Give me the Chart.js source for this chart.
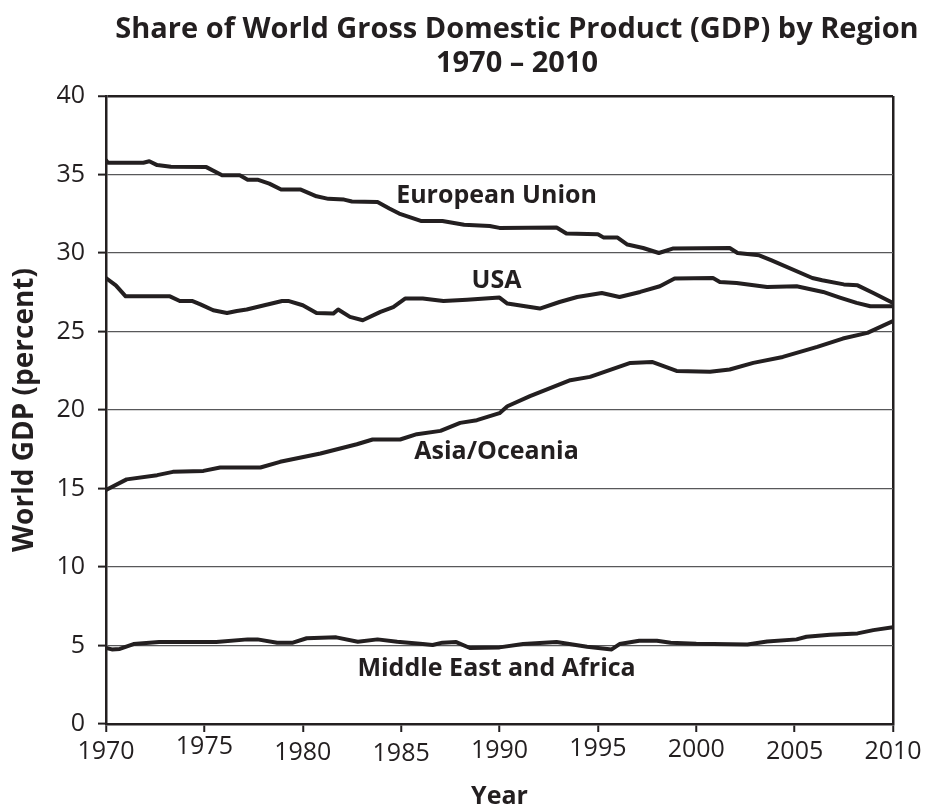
<!DOCTYPE html>
<html>
<head>
<meta charset="utf-8">
<title>Share of World GDP by Region</title>
<script src="https://cdn.jsdelivr.net/npm/chart.js@4.4.1/dist/chart.umd.min.js"></script>
<style>
  body { margin: 0; background: #fff; }
  canvas { display: block; }
</style>
</head>
<body>
<canvas id="gdpChart" width="928" height="812"></canvas>
<script>
// share of world GDP, percent, by year (breakpoints of each traced line)
var euYears = [1970, 1970.1, 1971.9, 1972.2, 1972.6, 1973.3, 1975.1, 1975.9, 1976.8, 1977.2, 1977.7, 1978.3, 1978.9, 1979.9, 1980.7, 1981.3, 1982.1, 1982.5, 1983.8, 1984.4, 1984.9, 1986.0, 1987.1, 1988.2, 1989.5, 1990.0, 1992.9, 1993.4, 1995.0, 1995.3, 1996.0, 1996.5, 1997.3, 1998.1, 1998.8, 2001.7, 2002.1, 2003.2, 2003.8, 2005.9, 2006.4, 2007.5, 2008.2, 2009.0, 2010];
var euShare = [35.9, 35.75, 35.75, 35.84, 35.6, 35.5, 35.47, 34.95, 34.95, 34.67, 34.67, 34.42, 34.04, 34.04, 33.61, 33.45, 33.4, 33.28, 33.25, 32.83, 32.51, 32.04, 32.04, 31.8, 31.72, 31.6, 31.62, 31.24, 31.2, 30.98, 30.98, 30.54, 30.32, 30.0, 30.28, 30.32, 30.0, 29.85, 29.54, 28.41, 28.26, 28.0, 27.94, 27.45, 26.82];

var usaYears = [1970, 1970.5, 1971.0, 1973.25, 1973.75, 1974.4, 1974.8, 1975.45, 1976.15, 1976.65, 1977.15, 1978.95, 1979.3, 1980.0, 1980.7, 1981.55, 1981.8, 1982.4, 1983.05, 1983.95, 1984.6, 1985.2, 1986.1, 1987.15, 1988.35, 1990.0, 1990.4, 1992.05, 1993.05, 1993.95, 1995.2, 1996.1, 1997.15, 1998.15, 1998.9, 2000.85, 2001.2, 2002.05, 2003.6, 2005.1, 2006.45, 2007.3, 2008.15, 2008.85, 2010];
var usaShare = [28.4, 27.94, 27.24, 27.24, 26.94, 26.94, 26.73, 26.35, 26.18, 26.31, 26.4, 26.94, 26.94, 26.67, 26.18, 26.14, 26.4, 25.93, 25.72, 26.25, 26.56, 27.1, 27.1, 26.94, 27.03, 27.16, 26.78, 26.46, 26.88, 27.2, 27.45, 27.2, 27.52, 27.88, 28.37, 28.41, 28.16, 28.09, 27.84, 27.88, 27.52, 27.16, 26.82, 26.61, 26.61];

var asiaYears = [1970, 1971.05, 1972.6, 1973.4, 1974.95, 1975.8, 1977.85, 1978.85, 1980.9, 1982.75, 1983.55, 1984.95, 1985.8, 1987.0, 1988.0, 1988.85, 1990.0, 1990.4, 1991.55, 1993.6, 1994.6, 1996.65, 1997.75, 1999.0, 2000.7, 2001.7, 2002.9, 2004.4, 2006.15, 2007.45, 2008.7, 2010];
var asiaShare = [14.9, 15.58, 15.85, 16.06, 16.12, 16.34, 16.34, 16.7, 17.23, 17.82, 18.12, 18.12, 18.46, 18.67, 19.18, 19.35, 19.8, 20.24, 20.88, 21.9, 22.11, 23.0, 23.06, 22.49, 22.43, 22.58, 23.0, 23.38, 24.02, 24.55, 24.91, 25.67];

var meYears = [1970, 1970.3, 1970.7, 1971.4, 1972.7, 1975.6, 1977.2, 1977.7, 1978.7, 1979.5, 1980.2, 1981.7, 1982.8, 1983.8, 1984.8, 1986.1, 1986.6, 1987.1, 1987.8, 1988.5, 1990.0, 1991.2, 1992.9, 1994.45, 1995.7, 1996.1, 1997.1, 1998.0, 1998.7, 2000.0, 2002.6, 2003.6, 2005.1, 2005.6, 2006.8, 2008.2, 2009.0, 2010];
var meShare = [4.85, 4.75, 4.78, 5.09, 5.22, 5.22, 5.39, 5.39, 5.18, 5.18, 5.46, 5.52, 5.24, 5.39, 5.24, 5.09, 5.03, 5.18, 5.22, 4.84, 4.88, 5.09, 5.22, 4.92, 4.75, 5.09, 5.3, 5.3, 5.18, 5.11, 5.07, 5.26, 5.39, 5.56, 5.68, 5.77, 5.98, 6.16];

var regionNames = ['European Union', 'USA', 'Asia/Oceania', 'Middle East and Africa'];
var titleLines = ['Share of World Gross Domestic Product (GDP) by Region', '1970 \u2013 2010'];

// where each region name sits, in axis units
var nameYear = [1989.85, 1989.85, 1989.85, 1989.85];
var nameShare = [33.67, 28.2, 17.31, 3.53];

// small vertical wobble of the year labels, px
var yearLabelShift = [0, -5, 1, 2, -1, -3, -2, 0, 0];

var ink = '#231f20';
var family = '"Open Sans", "DejaVu Sans", sans-serif';

function points(xs, ys) {
    return xs.map(function (x, i) { return { x: x, y: ys[i] }; });
}

function line(label, xs, ys) {
    return {
        label: label,
        data: points(xs, ys),
        borderColor: ink,
        borderWidth: 4,
        borderJoinStyle: 'round',
        borderCapStyle: 'round',
        pointRadius: 0,
        tension: 0,
        fill: false
    };
}

// two-line heading, centred between the plot's left edge and the page edge
var heading = {
    id: 'heading',
    afterDraw: function (chart) {
        var c = chart.ctx;
        var cx = (chart.chartArea.left + chart.width) / 2;
        c.save();
        c.fillStyle = ink;
        c.textAlign = 'center';
        c.textBaseline = 'middle';
        c.font = 'bold 29px ' + family;
        c.fillText(titleLines[0], cx, 30);
        c.fillText(titleLines[1], cx, 64);
        c.restore();
    }
};

// region names written next to their lines
var regionLabels = {
    id: 'regionLabels',
    afterDatasetsDraw: function (chart) {
        var c = chart.ctx;
        var xs = chart.scales.x, ys = chart.scales.y;
        c.save();
        c.fillStyle = ink;
        c.textAlign = 'center';
        c.textBaseline = 'middle';
        c.font = 'bold 25px ' + family;
        regionNames.forEach(function (name, i) {
            c.fillText(name, xs.getPixelForValue(nameYear[i]), ys.getPixelForValue(nameShare[i]));
        });
        c.restore();
    }
};

var ctx = document.getElementById('gdpChart');

new Chart(ctx, {
    type: 'line',
    data: {
        datasets: [
            line(regionNames[0], euYears, euShare),
            line(regionNames[1], usaYears, usaShare),
            line(regionNames[2], asiaYears, asiaShare),
            line(regionNames[3], meYears, meShare)
        ]
    },
    options: {
        responsive: false,
        devicePixelRatio: 1,
        animation: false,
        layout: { padding: { top: 96, right: 35, left: 0, bottom: 0 } },
        plugins: {
            legend: { display: false },
            tooltip: { enabled: false }
        },
        scales: {
            x: {
                type: 'linear',
                min: 1970,
                max: 2010,
                afterFit: function (s) { s.height = 88; },
                border: { color: ink, width: 2.5 },
                grid: {
                    drawOnChartArea: true,
                    color: function (c) { return c.tick && c.tick.value === 2010 ? ink : 'rgba(0,0,0,0)'; },
                    lineWidth: 2.5,
                    tickColor: ink,
                    tickWidth: 2,
                    tickLength: 8
                },
                ticks: {
                    stepSize: 5,
                    padding: 5,
                    color: ink,
                    maxRotation: 0,
                    callback: function (v) { return String(v); },
                    font: function (c) {
                        var s = yearLabelShift[c.index] || 0;
                        return { family: family, size: 25, lineHeight: (30 + 2 * s) + 'px' };
                    }
                },
                title: {
                    display: true,
                    text: 'Year',
                    color: ink,
                    font: { family: family, size: 25, weight: 'bold' },
                    padding: { top: 0, bottom: 0 }
                }
            },
            y: {
                min: 0,
                max: 40,
                afterFit: function (s) { s.width = 106; },
                border: { color: ink, width: 2.5 },
                grid: {
                    color: function (c) { return c.tick && c.tick.value === 40 ? ink : '#58585a'; },
                    lineWidth: function (c) { return c.tick && c.tick.value === 40 ? 2.5 : 1.2; },
                    tickColor: ink,
                    tickWidth: 2,
                    tickLength: 8
                },
                ticks: {
                    stepSize: 5,
                    padding: 13,
                    color: ink,
                    font: { family: family, size: 25 }
                },
                title: {
                    display: true,
                    text: 'World GDP (percent)',
                    color: ink,
                    font: { family: family, size: 28, weight: 'bold' },
                    padding: { top: 8, bottom: 0 }
                }
            }
        }
    },
    plugins: [heading, regionLabels]
});
</script>
</body>
</html>
